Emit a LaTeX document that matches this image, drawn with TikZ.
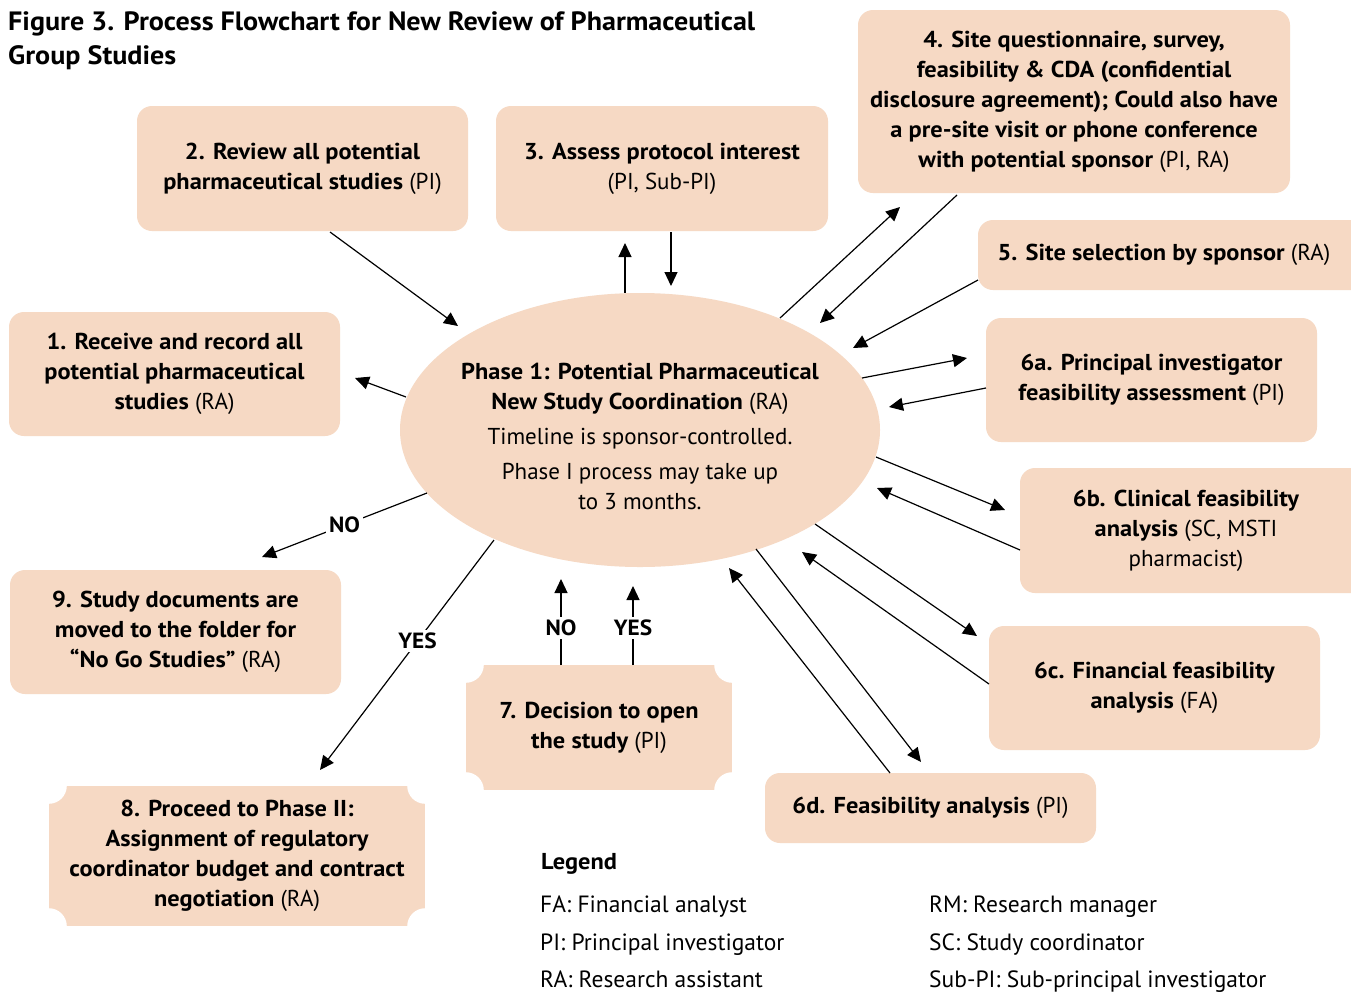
\documentclass[tikz,border=0pt]{standalone}
\usepackage{fontspec}
\setmainfont{PT Sans}[BoldFeatures={FakeStretch=1.06}]
\usetikzlibrary{arrows.meta,shapes.geometric}
\definecolor{peach}{RGB}{246,217,196}
\newcommand\rg[1]{{\mdseries #1}}
\begin{document}
\begin{tikzpicture}[x=1pt,y=-1pt,
  box/.style={fill=peach, rounded corners=15pt, align=center, inner sep=0pt,
    font=\bfseries\fontsize{23}{30}\selectfont},
  cbox/.style={fill=peach, align=center, inner sep=0pt,
    font=\bfseries\fontsize{23}{30}\selectfont},
  arr/.style={line width=1.2pt, -{Triangle[length=14pt,width=13pt]}},
  lbl/.style={fill=white, inner sep=3pt, font=\bfseries\fontsize{22}{26}\selectfont},
  leg/.style={anchor=base west, inner sep=0pt, font=\fontsize{23.5}{26}\selectfont}]
\useasboundingbox (0,0) rectangle (1351,991);
\fill[white] (0,0) rectangle (1351,991);

% title
\node[anchor=base west, inner sep=0pt, align=left, font=\bfseries\fontsize{26.5}{34}\selectfont] (title) at (8,64)
  {Figure 3. Process Flowchart for New Review of Pharmaceutical\\Group Studies};

% central ellipse
\node[ellipse, fill=peach, minimum width=480pt, minimum height=274pt, inner sep=0pt] (c) at (640,430) {};
\node[align=center, inner sep=0pt, font=\bfseries\fontsize{23}{30}\selectfont] (ct) at ([yshift=-6pt]c.center)
  {Phase 1: Potential Pharmaceutical\\ New Study Coordination \rg{(RA)}\\[5pt]
   \mdseries Timeline is sponsor-controlled.\\[5pt]
   \mdseries Phase I process may take up\\ \mdseries to 3 months.};

% boxes
\node[box, minimum width=331pt, minimum height=125pt] (b2) at (302.5,168.5)
  {2. Review all potential\\pharmaceutical studies \rg{(PI)}};
\node[box, minimum width=332pt, minimum height=125pt] (b3) at (662,168.5)
  {3. Assess protocol interest\\\rg{(PI, Sub-PI)}};
\node[box, minimum width=432pt, minimum height=183pt] (b4) at (1074,101.5)
  {4. Site questionnaire, survey,\\feasibility \& CDA (confidential\\disclosure agreement); Could also have\\a pre-site visit or phone conference\\with potential sponsor \rg{(PI, RA)}};
\node[box, minimum width=390pt, minimum height=70pt] (b5) at (1173,255)
  {\hspace*{-18pt}5. Site selection by sponsor \rg{(RA)}};
\node[box, minimum width=331pt, minimum height=124pt] (b6a) at (1151.5,380)
  {6a. Principal investigator\\feasibility assessment \rg{(PI)}};
\node[box, minimum width=350pt, minimum height=125pt] (b6b) at (1195,530.5)
  {\hspace*{-18pt}\begin{tabular}{@{}c@{}}6b. Clinical feasibility\\analysis \rg{(SC, MSTI}\\\rg{pharmacist)}\end{tabular}};
\node[box, minimum width=331pt, minimum height=124pt] (b6c) at (1154.5,688)
  {6c. Financial feasibility\\analysis \rg{(FA)}};
\node[box, minimum width=331pt, minimum height=70pt] (b6d) at (930.5,808)
  {6d. Feasibility analysis \rg{(PI)}};
\node[box, minimum width=331pt, minimum height=124pt] (b1) at (174.5,374)
  {1. Receive and record all\\potential pharmaceutical\\studies \rg{(RA)}};
\node[box, minimum width=331pt, minimum height=124pt] (b9) at (175.5,632)
  {9. Study documents are\\moved to the folder for\\``No Go Studies'' \rg{(RA)}};
\node[cbox, minimum width=266pt, minimum height=125pt] (b7) at (599,727.5)
  {7. Decision to open\\the study \rg{(PI)}};
\node[cbox, minimum width=376pt, minimum height=140pt] (b8) at (237,856)
  {8. Proceed to Phase II:\\Assignment of regulatory\\coordinator budget and contract\\negotiation \rg{(RA)}};
\foreach \n in {b7,b8}{
  \foreach \a in {north west,north east,south west,south east}
    \fill[white] (\n.\a) circle (18pt);
}

% connector end points
\coordinate (s1) at (330,232);  \coordinate (t1) at (458,326);
\coordinate (s2) at (625,293);  \coordinate (t2) at (625,243);
\coordinate (s3) at (671,232);  \coordinate (t3) at (671,286);
\coordinate (s4) at (780,318);  \coordinate (t4) at (900,207);
\coordinate (s5) at (957,195);  \coordinate (t5) at (820,323);
\coordinate (s6) at (978,280);  \coordinate (t6) at (853,348);
\coordinate (s7) at (862,378);  \coordinate (t7) at (967,358);
\coordinate (s8) at (986,388);  \coordinate (t8) at (889,407);
\coordinate (s9) at (876,457);  \coordinate (t9) at (1005,510);
\coordinate (s10) at (1020,550); \coordinate (t10) at (877,488);
\coordinate (s11) at (815,524); \coordinate (t11) at (977,636);
\coordinate (s12) at (989,684); \coordinate (t12) at (802,552);
\coordinate (s13) at (756,549); \coordinate (t13) at (921,762);
\coordinate (s14) at (890,773); \coordinate (t14) at (729,568);
\coordinate (s15) at (406,397); \coordinate (t15) at (355,378);
\coordinate (s16) at (427,493); \coordinate (t16) at (262,557);
\coordinate (s17) at (494,540); \coordinate (t17) at (320,770);
\coordinate (s18) at (561,665); \coordinate (t18) at (561,579);
\coordinate (s19) at (633,665); \coordinate (t19) at (633,586);

\foreach \i in {1,...,15} \draw[arr] (s\i) -- (t\i);
\draw[arr] (s16) -- node[lbl, pos=0.5] (lno1) {NO} (t16);
\draw[arr] (s17) -- node[lbl, pos=0.44] (lyes1) {YES} (t17);
\draw[arr] (s18) -- node[lbl, pos=0.43] (lno2) {NO} (t18);
\draw[arr] (s19) -- node[lbl, pos=0.47] (lyes2) {YES} (t19);

% legend
\node[leg, font=\bfseries\fontsize{23}{26}\selectfont] (lg) at (541,869) {Legend};
\node[leg] (l1) at (540,912) {FA: Financial analyst};
\node[leg] (l2) at (540,950) {PI: Principal investigator};
\node[leg] (l3) at (540,987) {RA: Research assistant};
\node[leg] (l4) at (929,912) {RM: Research manager};
\node[leg] (l5) at (929,950) {SC: Study coordinator};
\node[leg] (l6) at (929,987) {Sub-PI: Sub-principal investigator};
\end{tikzpicture}
\end{document}
